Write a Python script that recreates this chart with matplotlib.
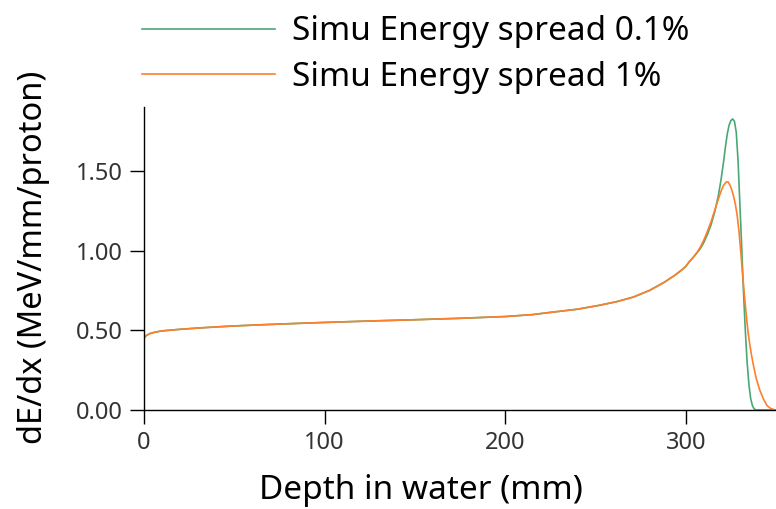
import matplotlib
matplotlib.use('Agg')
import matplotlib.pyplot as plt
import numpy as np

plt.rcParams['font.family'] = ['Noto Sans', 'DejaVu Sans']

# depth-dose values shared by both beams up to the start of the peak
plateau_depth = [0, 1, 3, 6, 10, 20, 30, 40, 50, 60, 75, 90, 100, 125, 150,
                 175, 200, 215, 225, 240, 252, 262, 271, 280, 288, 294, 298,
                 300, 302, 304, 306]
plateau_dose = [0.45, 0.465, 0.478, 0.488, 0.496, 0.506, 0.514, 0.521, 0.527,
                0.532, 0.539, 0.545, 0.549, 0.558, 0.566, 0.575, 0.586, 0.598,
                0.612, 0.632, 0.656, 0.68, 0.708, 0.75, 0.80, 0.845, 0.88,
                0.90, 0.93, 0.955, 0.983]

# Bragg peak, 0.1 % energy spread
peak_depth_01 = [308, 310, 312, 314, 316, 318, 319.5, 321, 322, 323, 324,
                 325, 326, 327, 328, 329, 330, 331, 332, 333, 334, 335, 336,
                 337, 338, 339, 350]
peak_dose_01 = [1.01, 1.05, 1.10, 1.16, 1.24, 1.34, 1.44, 1.56, 1.65, 1.73,
                1.785, 1.815, 1.825, 1.81, 1.74, 1.56, 1.29, 1.02, 0.74, 0.50,
                0.30, 0.16, 0.07, 0.025, 0.006, 0.0, 0.0]

# Bragg peak, 1 % energy spread
peak_depth_1 = [308, 310, 312, 314, 316, 318, 319.5, 321, 322.5, 323.5,
                324.5, 325.5, 326.5, 327.5, 328.5, 329.5, 330.5, 331.5, 332.5,
                333.5, 334.5, 335.5, 336.5, 337.5, 339, 341, 343, 345, 347,
                349, 350]
peak_dose_1 = [1.02, 1.065, 1.12, 1.18, 1.25, 1.32, 1.37, 1.41, 1.43, 1.43,
               1.41, 1.38, 1.34, 1.29, 1.22, 1.12, 0.99, 0.85, 0.72, 0.60,
               0.49, 0.41, 0.34, 0.28, 0.20, 0.125, 0.07, 0.028, 0.01, 0.002,
               0.0]

x_ticks = [0, 100, 200, 300]
y_ticks = [0.0, 0.5, 1.0, 1.5]

depth_01 = plateau_depth + peak_depth_01
dose_01 = plateau_dose + peak_dose_01
depth_1 = plateau_depth + peak_depth_1
dose_1 = plateau_dose + peak_dose_1

fig = plt.figure(figsize=(7.76, 5.09), dpi=100)
ax = fig.add_axes([0.1856, 0.1945, 0.8144, 0.5953])

ax.plot(depth_01, dose_01, color='#4aa874', lw=1.2,
        label='Simu Energy spread 0.1%')
ax.plot(depth_1, dose_1, color='#ff7f2a', lw=1.2,
        label='Simu Energy spread 1%')

ax.set_xlim(0, 350)
ax.set_ylim(0, 1.9)
ax.set_xticks(x_ticks)
ax.set_yticks(y_ticks)
ax.set_yticklabels(['{:.2f}'.format(v) for v in y_ticks])
ax.spines['top'].set_visible(False)
ax.spines['right'].set_visible(False)
for s in ('left', 'bottom'):
    ax.spines[s].set_linewidth(1.0)
ax.tick_params(direction='out', length=10, width=1.0, labelsize=17,
               labelcolor='#333333', pad=5)

ax.set_xlabel('Depth in water (mm)', fontsize=24)
ax.xaxis.set_label_coords(0.438, -0.212)
ax.set_ylabel('dE/dx (MeV/mm/proton)', fontsize=23.5)
ax.yaxis.set_label_coords(-0.148, 0.505)

fig.legend(loc='upper left', bbox_to_anchor=(0.183, 0.97), frameon=False,
           fontsize=24, handlelength=4.0, handletextpad=0.5, borderpad=0,
           borderaxespad=0, labelspacing=0.38)

plt.savefig('out.png', dpi=100)
